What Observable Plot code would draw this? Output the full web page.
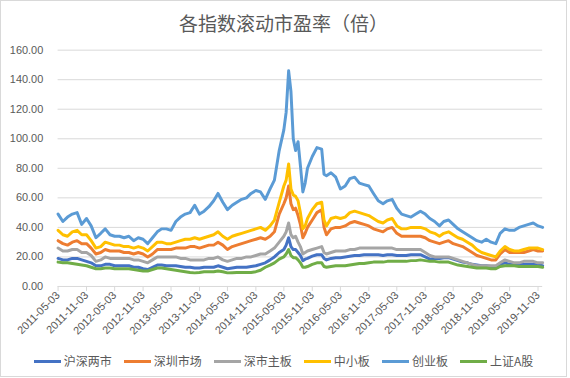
<!DOCTYPE html>
<html>
<head>
<meta charset="utf-8">
<script src="https://cdn.jsdelivr.net/npm/d3@7"></script>
<script src="https://cdn.jsdelivr.net/npm/@observablehq/plot@0.6"></script>
<style>
  html, body { margin: 0; padding: 0; background: #fff; }
  #chart { position: relative; width: 567px; height: 377px; border: 1px solid #d9d9d9; box-sizing: border-box; overflow: hidden; background: #fff; }
  #title { position: absolute; left: 0; right: 0; top: 10px; text-align: center; font: 19px "Noto Sans CJK SC", sans-serif; color: #595959; line-height: 24px; }
  #plot { position: absolute; left: -1px; top: -1px; }
  #legend { position: absolute; left: 0; right: 0; top: 351px; display: flex; justify-content: center; gap: 12px; font: 12px "Noto Sans CJK SC", sans-serif; color: #595959; line-height: 18px; }
  .item { display: flex; align-items: center; gap: 3px; }
  .sw { width: 27px; height: 3px; }
</style>
</head>
<body>
<div id="chart">
  <div id="title">各指数滚动市盈率（倍）</div>
  <div id="plot"></div>
  <div id="legend"></div>
</div>
<script>
const dates = [
  "2011-05-03","2011-06-03","2011-07-03","2011-08-03","2011-09-03","2011-10-03","2011-11-03","2011-12-03",
  "2012-01-03","2012-02-03","2012-03-03","2012-04-03","2012-05-03","2012-06-03","2012-07-03","2012-08-03","2012-09-03","2012-10-03","2012-11-03","2012-12-03",
  "2013-01-03","2013-02-03","2013-03-03","2013-04-03","2013-05-03","2013-06-03","2013-07-03","2013-08-03","2013-09-03","2013-10-03","2013-11-03","2013-12-03",
  "2014-01-03","2014-02-03","2014-03-03","2014-04-03","2014-05-03","2014-06-03","2014-07-03","2014-08-03","2014-09-03","2014-10-03","2014-11-03","2014-12-03",
  "2015-01-03","2015-02-03","2015-03-03","2015-04-03","2015-05-03","2015-05-18","2015-06-03","2015-06-18","2015-07-03","2015-07-18","2015-08-03","2015-08-18","2015-09-03","2015-09-18","2015-10-03","2015-11-03","2015-12-03",
  "2016-01-03","2016-01-18","2016-02-03","2016-03-03","2016-04-03","2016-05-03","2016-06-03","2016-07-03","2016-08-03","2016-09-03","2016-10-03","2016-11-03","2016-12-03",
  "2017-01-03","2017-02-03","2017-03-03","2017-04-03","2017-05-03","2017-06-03","2017-07-03","2017-08-03","2017-09-03","2017-10-03","2017-11-03","2017-12-03",
  "2018-01-03","2018-02-03","2018-03-03","2018-04-03","2018-05-03","2018-06-03","2018-07-03","2018-08-03","2018-09-03","2018-10-03","2018-11-03","2018-12-03",
  "2019-01-03","2019-02-03","2019-03-03","2019-04-03","2019-05-03","2019-06-03","2019-07-03","2019-08-03","2019-09-03","2019-10-03","2019-11-03","2019-12-03"
];

// 沪深两市
const hssl = [
  19,18,18,19,19,18,17,16,
  14,14,15,15,14,14,14,14,13,13,12,11.5,
  13,14.5,14.5,14,14,14,13.5,13,13,12.5,12.5,13,
  13,13,14,13,12,12.5,13,13,13,13.5,14,15,
  16,18,20,23,25,28,33,27,25,25,23,21,17.5,18.5,19,20.5,21.5,
  21.5,19,18,19,19.5,19.5,20,20.5,21,21,21.5,21.5,21.5,
  21.5,21,21.5,21.5,21,21,21,21.5,21.5,21.5,20,18.5,
  19,19,19.5,19.5,18.5,17.5,16.5,16,15,14.5,14,14,
  13.5,13.5,15,16,15,15,15,15,15,15,14.5,14
];
// 深圳市场
const szsc = [
  31,29,28,30,31,29,29,26,
  22,23,25,24,24,24,23,23,22,23,22,20,
  22,25,25,25,25,26,26,26,27,27,26,27,
  28,28,30,28,25,27,28,29,30,31,32,33,
  32,34,37,49,56,60,68,56,52,53,48,42,33,36,40,45,50,
  52,40,35,39,40,40,41,43,44,43,42,41,39,
  38,37,39,40,36,34,34,34,34,34,33,31,
  30,29,30,31,29,28,27,25,23,21,20,19,
  18,18,22,25,23,23,23,23,24,25,24,24
];
// 深市主板
const szzb = [
  26,24,24,25,25,23,23,21,
  17,18,20,19,19,19,19,19,18,18,17,16,
  18,20,20,20,20,20,19,19,18,18,18,18,
  19,19,20,18,17,18,19,19,20,20,21,22,
  22,24,26,30,34,37,43,35,33,34,30,27,22,23,24,25,26,
  27,23,22,23,24,24,24,25,25,26,26,26,26,
  26,26,26,26,25,25,25,25,25,25,23,21,
  20,20,20,20,19,18,17,16,15,14,14,14,
  14,14,16,18,17,16,16,17,17,17,16,16
];
// 中小板
const zxb = [
  38,35,34,37,38,35,35,31,
  26,27,30,29,28,28,27,27,26,27,26,24,
  27,30,30,29,29,30,31,32,32,33,32,33,
  34,35,37,34,32,34,35,36,37,38,39,40,
  38,41,45,57,68,72,83,66,62,61,58,50,39,41,46,52,56,
  57,45,41,46,47,46,47,50,51,50,49,48,46,
  44,43,45,46,41,39,39,40,40,40,39,37,
  36,34,36,37,35,33,32,30,28,25,23,22,
  21,20,24,27,25,24,24,25,26,26,26,25
];
// 创业板
const cyb = [
  49,44,47,49,50,42,46,41,
  33,36,39,35,34,34,33,34,31,33,32,29,
  33,37,39,39,38,44,47,49,50,55,49,51,
  54,58,63,57,52,55,57,59,60,63,65,64,
  59,66,72,92,106,118,146,132,100,92,98,82,64,70,80,88,94,
  93,76,75,77,74,66,68,73,74,70,69,68,63,
  58,56,58,59,53,49,48,47,49,51,49,46,
  44,41,44,45,42,39,37,35,33,31,30,32,
  30,29,36,39,38,38,40,41,42,43,41,40
];
// 上证A股
const szag = [
  16.5,16,16,15.5,15,14.5,14,13,
  12,12,12.5,12.5,12,12,12,12,11.5,11,10.5,10.5,
  11.5,12.5,12.5,12,11.5,11,10.5,10,9.5,9.2,9.5,10,
  10,10,10.5,10,9.2,9.3,9.4,9.4,9.5,9.5,10,11,
  13,14.5,16,18.5,20,22,25,21,19.5,19.5,18,16,13,13,13.5,15,16,
  16,13.5,13,13.5,14,14,14,14.5,15,15.5,15.5,16,16.5,
  16.5,16.5,17,17,17,17,17,17.5,17.5,18,17.5,17,
  17,16.5,16.5,16.5,15.5,14.5,14,13.5,13,12.5,12.5,12.5,
  12,12,13.5,14,14,14,13.5,13.5,13.5,13.5,13.5,13
];

const seriesNames = ["沪深两市","深圳市场","深市主板","中小板","创业板","上证A股"];
const seriesValues = [hssl, szsc, szzb, zxb, cyb, szag];
const seriesColors = ["#4472C4","#ED7D31","#A5A5A5","#FFC000","#5B9BD5","#70AD47"];

const xTickLabels = ["2011-05-03","2011-11-03","2012-05-03","2012-11-03","2013-05-03","2013-11-03","2014-05-03","2014-11-03","2015-05-03","2015-11-03","2016-05-03","2016-11-03","2017-05-03","2017-11-03","2018-05-03","2018-11-03","2019-05-03","2019-11-03"];
const yTicks = [0,20,40,60,80,100,120,140,160];

const parse = d3.utcParse("%Y-%m-%d");
const lineMarks = seriesValues.map((vals, k) => {
  const rows = dates.map((d, i) => ({date: parse(d), value: vals[i]})).filter(r => r.value != null);
  return Plot.line(rows, {x: "date", y: "value", stroke: seriesColors[k], strokeWidth: 3, strokeLinejoin: "round"});
});

const chart = Plot.plot({
  width: 570,
  height: 378,
  marginTop: 50,
  marginBottom: 90,
  marginLeft: 58,
  marginRight: 24,
  style: {fontFamily: "'Liberation Sans', Arial, sans-serif", fontSize: "11px", color: "#595959", background: "transparent", overflow: "visible"},
  x: {type: "utc", domain: [parse(dates[0]), parse(dates[dates.length - 1])]},
  y: {domain: [0, 160]},
  marks: [
    Plot.ruleY(yTicks, {stroke: "#d9d9d9", strokeWidth: 1}),
    Plot.axisY(yTicks, {tickSize: 0, tickPadding: 15, tickFormat: d3.format(".2f"), label: null, fill: "#595959"}),
    Plot.axisX(xTickLabels.map(parse), {tickSize: 5, tickPadding: 2, tickRotate: -45, tickFormat: d3.utcFormat("%Y-%m-%d"), label: null, stroke: "#d9d9d9", fill: "#595959"}),
    ...lineMarks
  ]
});
document.getElementById("plot").appendChild(chart);

const legend = document.getElementById("legend");
seriesNames.forEach((n, k) => {
  const it = document.createElement("div");
  it.className = "item";
  const sw = document.createElement("div");
  sw.className = "sw";
  sw.style.background = seriesColors[k];
  const tx = document.createElement("span");
  tx.textContent = n;
  it.appendChild(sw);
  it.appendChild(tx);
  legend.appendChild(it);
});
</script>
</body>
</html>
